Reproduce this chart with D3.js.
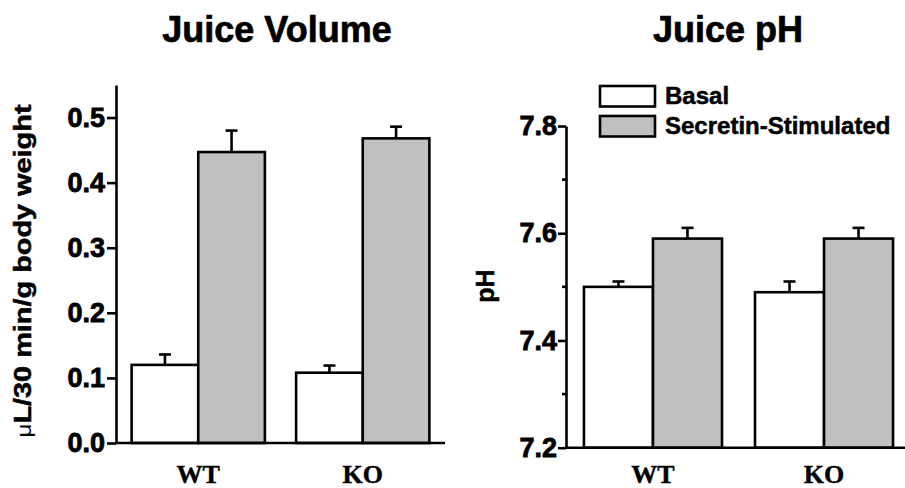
<!DOCTYPE html>
<html>
<head>
<meta charset="utf-8">
<script src="https://cdn.jsdelivr.net/npm/d3@7"></script>
<style>
  html, body { margin: 0; padding: 0; background: #fff; }
  svg { display: block; }
</style>
</head>
<body>
<svg id="chart" width="905" height="488"></svg>
<script>
// ---------- DATA ----------
const categories = ["WT", "KO"];
const seriesNames = ["Basal", "Secretin-Stimulated"];
const seriesFill = ["#ffffff", "#c0c0c0"];

const volumeBasal = [0.120, 0.108];
const volumeStim = [0.447, 0.468];
const volumeBasalErr = [0.016, 0.011];
const volumeStimErr = [0.033, 0.018];

const phBasal = [7.50, 7.49];
const phStim = [7.59, 7.59];
const phBasalErr = [0.01, 0.02];
const phStimErr = [0.02, 0.02];

const volumeTicks = [0.0, 0.1, 0.2, 0.3, 0.4, 0.5];
const phTicks = [7.2, 7.4, 7.6, 7.8];
const phMinorTicks = [7.3, 7.5, 7.7];

// ---------- DRAW ----------
const svg = d3.select("#chart");
const SW = 2.6;
const SANS = '"Liberation Sans", Arial, Helvetica, sans-serif';
const SERIF = '"Liberation Serif", "Times New Roman", serif';

function boldSans(sel, size) {
  return sel.style("font-family", SANS).style("font-weight", "bold")
    .style("font-size", size + "px").attr("fill", "#000")
    .attr("stroke", "#000").attr("stroke-width", 0.5);
}

function panel(opts) {
  const g = svg.append("g");
  const y = d3.scaleLinear().domain(opts.yDomain).range(opts.yRange);
  const x0 = d3.scaleBand().domain(categories).range(opts.xRange)
    .paddingInner(opts.padIn).paddingOuter(opts.padOut);
  const x1 = d3.scaleBand().domain(seriesNames).range([0, x0.bandwidth()]);

  const rows = [];
  categories.forEach((c, i) => {
    rows.push({cat: c, s: 0, v: opts.basal[i], e: opts.basalErr[i]});
    rows.push({cat: c, s: 1, v: opts.stim[i], e: opts.stimErr[i]});
  });
  const base = opts.yDomain[0];

  const eb = g.append("g");
  rows.forEach(d => {
    const cx = x0(d.cat) + x1(seriesNames[d.s]) + x1.bandwidth() / 2;
    eb.append("line").attr("x1", cx).attr("x2", cx)
      .attr("y1", y(d.v)).attr("y2", y(d.v + d.e))
      .attr("stroke", "#000").attr("stroke-width", SW);
    eb.append("line").attr("x1", cx - 6).attr("x2", cx + 6)
      .attr("y1", y(d.v + d.e)).attr("y2", y(d.v + d.e))
      .attr("stroke", "#000").attr("stroke-width", SW);
  });

  g.append("g").selectAll("rect").data(rows).join("rect")
    .attr("x", d => x0(d.cat) + x1(seriesNames[d.s]))
    .attr("width", x1.bandwidth())
    .attr("y", d => y(d.v))
    .attr("height", d => y(base) - y(d.v))
    .attr("fill", d => seriesFill[d.s])
    .attr("stroke", "#000").attr("stroke-width", SW);

  const ax = g.append("g").attr("transform", `translate(${opts.xRange[0]},0)`)
    .call(d3.axisLeft(y).tickValues(opts.ticks).tickFormat(d3.format(".1f"))
      .tickSize(opts.tickLen).tickPadding(opts.tickPad).tickSizeOuter(0));
  ax.select(".domain").attr("stroke-width", SW);
  ax.selectAll(".tick line").attr("stroke-width", SW);
  boldSans(ax.selectAll(".tick text"), opts.tickFont).attr("stroke-width", 0.8);
  if (opts.minor) {
    g.append("g").selectAll("line").data(opts.minor).join("line")
      .attr("x1", opts.xRange[0] - 4).attr("x2", opts.xRange[0])
      .attr("y1", d => y(d)).attr("y2", d => y(d))
      .attr("stroke", "#000").attr("stroke-width", SW);
  }
  g.append("line").attr("x1", opts.xRange[0]).attr("x2", opts.xEnd)
    .attr("y1", y(base)).attr("y2", y(base))
    .attr("stroke", "#000").attr("stroke-width", SW);

  g.append("g").selectAll("text").data(categories).join("text")
    .attr("x", d => x0(d) + x0.bandwidth() / 2)
    .attr("y", 483)
    .attr("text-anchor", "middle")
    .style("font-family", SERIF).style("font-weight", "bold").style("font-size", "26px")
    .attr("fill", "#000").attr("stroke", "#000").attr("stroke-width", 0.4)
    .text(d => d);

  boldSans(g.append("text").attr("x", opts.titleX).attr("y", 42)
    .attr("text-anchor", "middle"), 36).attr("stroke-width", 0.7)
    .text(opts.title);
  return {g, x0, y};
}

// Left panel
panel({
  title: "Juice Volume", titleX: 277,
  yDomain: [0, 0.55], yRange: [443, 85],
  xRange: [116, 445], xEnd: 445, padIn: 0.19, padOut: 0.095,
  basal: volumeBasal, stim: volumeStim, basalErr: volumeBasalErr, stimErr: volumeStimErr,
  ticks: volumeTicks, tickLen: 9, tickPad: 2, tickFont: 27
});
const lab = boldSans(svg.append("text")
  .attr("transform", "translate(31,271) rotate(-90)")
  .attr("text-anchor", "middle"), 24)
  .attr("textLength", 333).attr("lengthAdjust", "spacingAndGlyphs");
lab.append("tspan").style("font-weight", "normal").style("font-size", "20px").attr("stroke-width", 0).text("\u03bc");
lab.append("tspan").text("L/30 min/g body weight");

// Right panel
panel({
  title: "Juice pH", titleX: 728,
  yDomain: [7.2, 7.8], yRange: [447.7, 126],
  xRange: [566, 911], xEnd: 905, padIn: 0.193, padOut: 0.105,
  basal: phBasal, stim: phStim, basalErr: phBasalErr, stimErr: phStimErr,
  ticks: phTicks, tickLen: 8, tickPad: 1, tickFont: 27, minor: phMinorTicks
});
boldSans(svg.append("text").attr("transform", "translate(494,286) rotate(-90)")
  .attr("text-anchor", "middle"), 25)
  .text("pH");

// Legend
const leg = svg.append("g");
seriesNames.forEach((s, i) => {
  leg.append("rect").attr("x", 600).attr("y", 86 + i * 30).attr("width", 55).attr("height", 20.5)
    .attr("fill", seriesFill[i]).attr("stroke", "#000").attr("stroke-width", SW);
  boldSans(leg.append("text").attr("x", 665).attr("y", 104 + i * 30), 24).text(s);
});
</script>
</body>
</html>
